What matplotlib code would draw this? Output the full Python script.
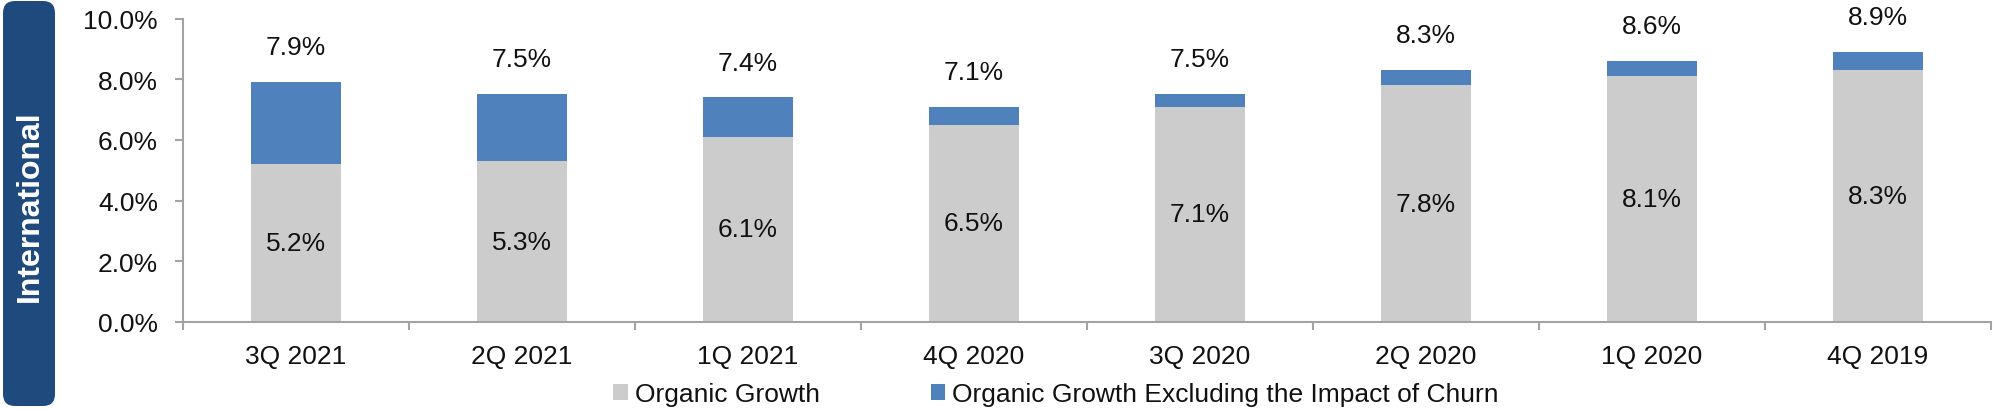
import matplotlib
matplotlib.use("Agg")
import matplotlib.pyplot as plt
from matplotlib.patches import FancyBboxPatch, Patch
from matplotlib.ticker import FuncFormatter, FixedLocator

plt.rcParams['font.family'] = ['Liberation Sans', 'DejaVu Sans']

categories = ["3Q 2021", "2Q 2021", "1Q 2021", "4Q 2020", "3Q 2020", "2Q 2020", "1Q 2020", "4Q 2019"]
organic = [5.2, 5.3, 6.1, 6.5, 7.1, 7.8, 8.1, 8.3]
excl_churn = [7.9, 7.5, 7.4, 7.1, 7.5, 8.3, 8.6, 8.9]
panel_title = "International"
legend_labels = ["Organic Growth", "Organic Growth Excluding the Impact of Churn"]

gray = "#cccccc"
blue = "#4f81bd"
navy = "#1f4a7e"
axis_col = "#a3a3a3"
FS = 19

fig = plt.figure(figsize=(20, 4.1), dpi=100)
ax = fig.add_axes([0.0915, 0.2122, 0.904, 0.7402])

x = list(range(len(categories)))
extra = [t - o for t, o in zip(excl_churn, organic)]
ax.bar(x, organic, width=0.40, color=gray, zorder=2)
ax.bar(x, extra, bottom=organic, width=0.40, color=blue, zorder=2)

for i in x:
    ax.text(i, organic[i] / 2, f"{organic[i]:.1f}%", ha="center", va="center", fontsize=FS, color="#111111")
    ax.text(i, excl_churn[i] + 1.15, f"{excl_churn[i]:.1f}%", ha="center", va="center", fontsize=FS, color="#111111")

ax.set_xlim(-0.5, len(categories) - 0.5)
ax.set_ylim(0, 10)
ax.set_yticks([0, 2, 4, 6, 8, 10])
ax.yaxis.set_major_formatter(FuncFormatter(lambda v, p: f"{v:.1f}%"))
ax.set_xticks(x)
ax.set_xticklabels(categories)
ax.xaxis.set_minor_locator(FixedLocator([i - 0.5 for i in range(len(categories) + 1)]))

for s in ["top", "right"]:
    ax.spines[s].set_visible(False)
for s in ["left", "bottom"]:
    ax.spines[s].set_color(axis_col)
    ax.spines[s].set_linewidth(1.5)

ax.tick_params(axis="x", which="major", length=0, pad=15.5, labelsize=FS, labelcolor="#111111")
ax.tick_params(axis="x", which="minor", length=6, width=1.5, color=axis_col, direction="out")
ax.tick_params(axis="y", which="major", length=6, width=1.5, color=axis_col, direction="out", pad=12,
               labelsize=FS, labelcolor="#111111")

# left panel
panel = FancyBboxPatch((0.03, 0.03), 0.52, 4.05, boxstyle="round,pad=0,rounding_size=0.12",
                       transform=fig.dpi_scale_trans, facecolor=navy, edgecolor="none")
fig.patches.append(panel)
fig.text(0.30, 2.04, panel_title, transform=fig.dpi_scale_trans, rotation=90, ha="center", va="center",
         color="white", fontsize=23, fontweight="bold")

handles = [Patch(facecolor=gray, edgecolor="none"), Patch(facecolor=blue, edgecolor="none")]
fig.legend(handles, legend_labels, loc="center", bbox_to_anchor=(0.528, 0.036), ncol=2, frameon=False,
           fontsize=FS, handlelength=0.55, handleheight=0.55, handletextpad=0.27, columnspacing=4.2,
           borderpad=0, borderaxespad=0, labelcolor="#111111")

fig.savefig("out.png", dpi=100)
